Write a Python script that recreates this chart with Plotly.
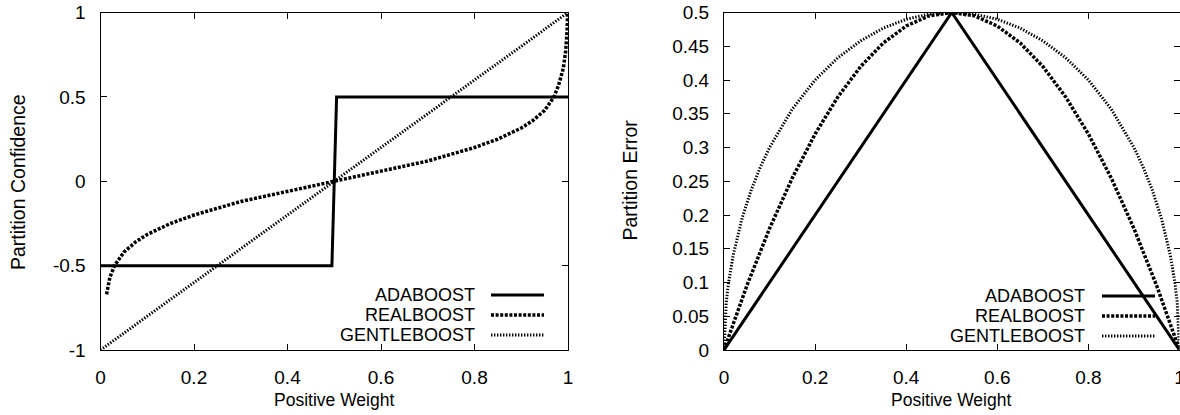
import plotly.graph_objects as go

# ---- data -------------------------------------------------------------
# Left panel: partition confidence vs. positive weight
conf_ada_x = [0.0, 0.495, 0.505, 1.0]
conf_ada_y = [-0.5, -0.5, 0.5, 0.5]

conf_real_x = [0.013, 0.02, 0.03, 0.05, 0.075, 0.1, 0.15, 0.2, 0.25, 0.3, 0.35, 0.4,
               0.45, 0.5, 0.55, 0.6, 0.65, 0.7, 0.75, 0.8, 0.85, 0.9, 0.925, 0.95,
               0.97, 0.98, 0.99, 0.995, 0.998, 0.9993]
conf_real_y = [-0.67, -0.57, -0.50, -0.42, -0.36, -0.315, -0.25, -0.20, -0.16, -0.12,
               -0.09, -0.06, -0.03, 0.0, 0.03, 0.06, 0.09, 0.12, 0.16, 0.20, 0.25,
               0.315, 0.36, 0.42, 0.50, 0.57, 0.67, 0.77, 0.89, 1.0]

conf_gentle_x = [0.0, 0.5, 1.0]
conf_gentle_y = [-1.0, 0.0, 1.0]

# Right panel: partition error vs. positive weight
err_ada_x = [0.0, 0.5, 1.0]
err_ada_y = [0.0, 0.5, 0.0]

err_real_x = [0.0, 0.05, 0.1, 0.15, 0.2, 0.25, 0.3, 0.35, 0.4, 0.45, 0.5,
              0.55, 0.6, 0.65, 0.7, 0.75, 0.8, 0.85, 0.9, 0.95, 1.0]
err_real_y = [0.0, 0.095, 0.18, 0.255, 0.32, 0.375, 0.42, 0.455, 0.48, 0.495, 0.5,
              0.495, 0.48, 0.455, 0.42, 0.375, 0.32, 0.255, 0.18, 0.095, 0.0]

err_gentle_x = [0.0, 0.005, 0.01, 0.02, 0.04, 0.06, 0.08, 0.1, 0.15, 0.2, 0.25, 0.3,
                0.35, 0.4, 0.45, 0.5, 0.55, 0.6, 0.65, 0.7, 0.75, 0.8, 0.85, 0.9,
                0.92, 0.94, 0.96, 0.98, 0.99, 0.995, 1.0]
err_gentle_y = [0.0, 0.0705, 0.0995, 0.14, 0.196, 0.2375, 0.2713, 0.3, 0.357, 0.4,
                0.433, 0.458, 0.477, 0.49, 0.4975, 0.5, 0.4975, 0.49, 0.477, 0.458,
                0.433, 0.4, 0.357, 0.3, 0.2713, 0.2375, 0.196, 0.14, 0.0995, 0.0705, 0.0]

series_names = ["ADABOOST", "REALBOOST", "GENTLEBOOST"]

x_ticks = [0, 0.2, 0.4, 0.6, 0.8, 1]
x_tick_text = ["0", "0.2", "0.4", "0.6", "0.8", "1"]
conf_ticks = [-1, -0.5, 0, 0.5, 1]
conf_tick_text = ["-1", "-0.5", "0", "0.5", "1"]
err_ticks = [0, 0.05, 0.1, 0.15, 0.2, 0.25, 0.3, 0.35, 0.4, 0.45, 0.5]
err_tick_text = ["0", "0.05", "0.1", "0.15", "0.2", "0.25", "0.3", "0.35", "0.4", "0.45", "0.5"]

# ---- styling ------------------------------------------------------------
W, H = 1180, 415
FONT = "Liberation Sans, Arial, Helvetica, sans-serif"
styles = [
    dict(color="black", width=3, dash="solid"),
    dict(color="black", width=3.5, dash="3px,1.6px"),
    dict(color="black", width=3, dash="1.4px,1.6px"),
]


def px_x(p):
    return p / W


def px_y(p):
    return 1 - p / H


fig = go.Figure()

left_series = [(conf_ada_x, conf_ada_y), (conf_real_x, conf_real_y), (conf_gentle_x, conf_gentle_y)]
right_series = [(err_ada_x, err_ada_y), (err_real_x, err_real_y), (err_gentle_x, err_gentle_y)]

for (xs, ys), name, st in zip(left_series, series_names, styles):
    fig.add_trace(go.Scatter(x=xs, y=ys, mode="lines", name=name, line=st,
                             xaxis="x", yaxis="y", showlegend=False))
for (xs, ys), name, st in zip(right_series, series_names, styles):
    fig.add_trace(go.Scatter(x=xs, y=ys, mode="lines", name=name, line=st,
                             xaxis="x2", yaxis="y2", showlegend=False))

plot_top, plot_bottom = 12.5, 350
axis_common = dict(
    showgrid=False, zeroline=False, showline=True, linecolor="black", linewidth=1,
    mirror="ticks", ticks="inside", ticklen=6, tickwidth=1, tickcolor="black",
    tickfont=dict(family=FONT, size=19, color="black"), tickmode="array",
    automargin=False,
)

fig.update_layout(
    width=W, height=H,
    margin=dict(l=0, r=0, t=0, b=0, autoexpand=False),
    paper_bgcolor="white", plot_bgcolor="white",
    font=dict(family=FONT, color="black"),
    xaxis=dict(axis_common, domain=[px_x(100.5), px_x(568)], range=[0, 1],
               tickvals=x_ticks, ticktext=x_tick_text, anchor="y", ticklabelstandoff=10),
    yaxis=dict(axis_common, domain=[px_y(plot_bottom), px_y(plot_top)], range=[-1, 1],
               tickvals=conf_ticks, ticktext=conf_tick_text, anchor="x", ticklabelstandoff=10),
    xaxis2=dict(axis_common, domain=[px_x(724), px_x(1179.5)], range=[0, 1],
                tickvals=x_ticks, ticktext=x_tick_text, anchor="y2", ticklabelstandoff=10,
                ticklabeloverflow="allow"),
    yaxis2=dict(axis_common, domain=[px_y(plot_bottom), px_y(plot_top)], range=[0, 0.5],
                tickvals=err_ticks, ticktext=err_tick_text, anchor="x2", ticklabelstandoff=10),
)

annotations = []
shapes = []

# axis titles
xtitle_font = dict(family=FONT, size=17.5, color="black")
ytitle_font = dict(family=FONT, size=19.5, color="black")
annotations += [
    dict(text="Positive Weight", x=px_x(334), y=px_y(400), xref="paper", yref="paper",
         showarrow=False, font=xtitle_font, xanchor="center", yanchor="middle"),
    dict(text="Positive Weight", x=px_x(951), y=px_y(400), xref="paper", yref="paper",
         showarrow=False, font=xtitle_font, xanchor="center", yanchor="middle"),
    dict(text="Partition Confidence", x=px_x(18), y=px_y(182), xref="paper", yref="paper",
         showarrow=False, font=ytitle_font, textangle=-90, xanchor="center", yanchor="middle"),
    dict(text="Partition Error", x=px_x(629.5), y=px_y(180), xref="paper", yref="paper",
         showarrow=False, font=ytitle_font, textangle=-90, xanchor="center", yanchor="middle"),
]

# key boxes: label right-aligned, line sample to its right
legend_font = dict(family=FONT, size=18, color="black")
keys = [
    dict(text_right=477, line_x0=491, line_x1=544, rows=[295, 315, 335]),
    dict(text_right=1087, line_x0=1102, line_x1=1155, rows=[296, 316, 336]),
]
for k in keys:
    for name, st, row in zip(series_names, styles, k["rows"]):
        annotations.append(dict(text=name, x=px_x(k["text_right"]), y=px_y(row),
                                xref="paper", yref="paper", showarrow=False,
                                font=legend_font, xanchor="right", yanchor="middle"))
        shapes.append(dict(type="line", xref="paper", yref="paper",
                           x0=px_x(k["line_x0"]), x1=px_x(k["line_x1"]),
                           y0=px_y(row), y1=px_y(row), line=st))

fig.update_layout(annotations=annotations, shapes=shapes)

fig.write_html("out.html")
